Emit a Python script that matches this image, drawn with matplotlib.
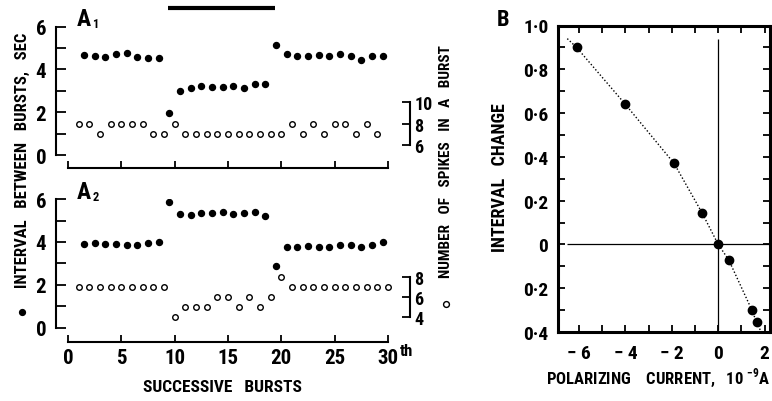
import matplotlib
matplotlib.use('Agg')
import matplotlib.pyplot as plt
from matplotlib.lines import Line2D

plt.rcParams['font.family'] = ['Roboto Condensed', 'Roboto', 'DejaVu Sans']
plt.rcParams['font.weight'] = 'heavy'
plt.rcParams['mathtext.fontset'] = 'custom'
plt.rcParams['mathtext.rm'] = 'Roboto Condensed:bold'
plt.rcParams['mathtext.bf'] = 'Roboto Condensed:bold'

# ---- data ----
burst_no_a1 = [1, 2, 3, 4, 5, 6, 7, 8, 9, 10, 11, 12, 13, 14, 15, 16, 17, 18, 19, 20,
               21, 22, 23, 24, 25, 26, 27, 28, 29]
burst_no_a2 = burst_no_a1 + [30]
gap_pos = [1.5, 2.5, 3.5, 4.5, 5.5, 6.5, 7.5, 8.5, 9.5, 10.5, 11.5, 12.5, 13.5, 14.5, 15.5,
           16.5, 17.5, 18.5, 19.5, 20.5, 21.5, 22.5, 23.5, 24.5, 25.5, 26.5, 27.5, 28.5, 29.5]

a1_interval = [4.69, 4.63, 4.60, 4.71, 4.78, 4.59, 4.51, 4.52,
               1.97,
               2.99, 3.13, 3.23, 3.18, 3.18, 3.23, 3.13, 3.32, 3.32,
               5.13,
               4.74, 4.63, 4.63, 4.66, 4.62, 4.73, 4.63, 4.46, 4.62, 4.62]
a1_spikes = [8, 8, 7, 8, 8, 8, 8, 7, 7, 8,
             7, 7, 7, 7, 7, 7, 7, 7, 7, 7,
             8, 7, 8, 7, 8, 8, 7, 8, 7]

a2_interval = [3.90, 3.93, 3.91, 3.91, 3.87, 3.84, 3.95, 3.98,
               5.88,
               5.30, 5.26, 5.35, 5.36, 5.38, 5.32, 5.34, 5.40, 5.21,
               2.89,
               3.75, 3.75, 3.82, 3.78, 3.75, 3.84, 3.87, 3.78, 3.87, 3.98]
a2_spikes = [7, 7, 7, 7, 7, 7, 7, 7, 7, 4,
             5, 5, 5, 6, 6, 5, 6, 5, 6, 8,
             7, 7, 7, 7, 7, 7, 7, 7, 7, 7]

current_bar = [9.36, 19.4]   # polarizing current on (burst no.)

b_current = [-6.1, -4.0, -1.9, -0.7, 0.0, 0.45, 1.45, 1.65]
b_change = [0.90, 0.64, 0.37, 0.145, 0.0, -0.07, -0.30, -0.355]
b_curve_x = [-6.5, -6.1, -4.0, -1.9, -0.7, 0.0, 0.45, 1.45, 1.65, 1.85]
b_curve_y = [0.94, 0.90, 0.64, 0.37, 0.145, 0.0, -0.07, -0.30, -0.355, -0.40]

b_yticks = [1.0, 0.8, 0.6, 0.4, 0.2, 0.0, -0.2, -0.4]
b_ylabels = ['1·0', '0·8', '0·6', '0·4', '0·2', '0', '0·2', '0·4']
b_xticks = [-6, -4, -2, 0, 2]
b_xlabels = ['− 6', '− 4', '− 2', '0', '2']

W, H = 772, 402
fig = plt.figure(figsize=(W / 100, H / 100), dpi=100)


def px_axes(l, t, r, b):
    return fig.add_axes([l / W, 1 - b / H, (r - l) / W, (b - t) / H])


def dot(x, y, filled):
    fig.add_artist(Line2D([x / W], [1 - y / H], transform=fig.transFigure, marker='o',
                          mfc='black' if filled else 'white', mec='black', mew=1.0,
                          ms=4.2))


def burst_panel(top, bottom, xaxis_y, interval, spikes, spk_x, rlim, rbounds, show_x):
    ax = px_axes(56, top, 410, bottom)
    ax.set_xlim(-1.125, 32.06)
    ax.set_ylim(-0.9, 6.0)
    ax.patch.set_alpha(0)
    for s in ['top', 'right']:
        ax.spines[s].set_visible(False)
    ax.spines['left'].set_bounds(0, 6)
    ax.spines['bottom'].set_position(('data', xaxis_y))
    ax.spines['bottom'].set_bounds(0, 30)
    for s in ['left', 'bottom']:
        ax.spines[s].set_linewidth(1.5)
    ax.set_yticks([0, 2, 4, 6])
    ax.set_yticks([1, 3, 5], minor=True)
    ax.set_xticks([0, 5, 10, 15, 20, 25, 30])
    ax.tick_params(axis='y', which='both', direction='in', length=7, width=1.3, pad=7,
                   labelsize=15)
    ax.tick_params(axis='x', direction='in', length=5, width=1.3, pad=4, labelsize=15,
                   labelbottom=show_x)
    ax.plot(gap_pos, interval, 'o', color='black', ms=4.3, ls='none')

    tw = ax.twinx()
    tw.set_ylim(*rlim)
    for s in ['top', 'left', 'bottom']:
        tw.spines[s].set_visible(False)
    tw.spines['right'].set_bounds(*rbounds)
    tw.spines['right'].set_linewidth(1.5)
    tw.set_yticks([rbounds[0], (rbounds[0] + rbounds[1]) / 2, rbounds[1]])
    tw.tick_params(axis='y', direction='in', length=6, width=1.3, pad=3, labelsize=13)
    tw.plot(spk_x, spikes, 'o', mfc='white', mec='black', mew=1.0, ms=4.0, ls='none')
    return ax


ax1 = burst_panel(27.6, 175.3, -0.61, a1_interval, a1_spikes, burst_no_a1,
                  (3.28, 17.08), (6, 10), False)
ax2 = burst_panel(200.1, 347.8, -0.68, a2_interval, a2_spikes, burst_no_a2,
                  (1.04, 15.72), (4, 8), True)

ax1.plot(current_bar, [6.86, 6.86], color='black', lw=3, solid_capstyle='butt',
         clip_on=False)

fig.text(77 / W, 1 - 20 / H, 'A', fontsize=17, ha='left', va='center')
fig.text(92.5 / W, 1 - 25 / H, '1', fontsize=9, ha='left', va='center')
fig.text(77 / W, 1 - 193 / H, 'A', fontsize=17, ha='left', va='center')
fig.text(92.5 / W, 1 - 198 / H, '2', fontsize=9, ha='left', va='center')

fig.text(22 / W, 1 - 160 / H, 'INTERVAL   BETWEEN   BURSTS,   SEC', rotation=90,
         fontsize=12, ha='center', va='center')
dot(22, 313, True)
fig.text(446 / W, 1 - 162 / H, 'NUMBER   OF   SPIKES   IN   A   BURST', rotation=90,
         fontsize=11, ha='center', va='center')
dot(446, 305, False)
fig.text(222 / W, 1 - 388 / H, 'SUCCESSIVE   BURSTS', fontsize=12.5, ha='center',
         va='center')
fig.text(400 / W, 1 - 352 / H, 'th', fontsize=12, ha='left', va='center')

# ---- panel B ----
axb = px_axes(558, 26.5, 770, 333)
axb.set_xlim(-6.9, 2.23)
axb.set_ylim(-0.4, 1.0)
for s in axb.spines.values():
    s.set_linewidth(2.2)
axb.set_yticks(b_yticks, b_ylabels)
axb.set_yticks([0.9, 0.7, 0.5, 0.3, 0.1, -0.1, -0.3], minor=True)
axb.set_xticks(b_xticks, b_xlabels)
axb.set_xticks([-5, -3, -1, 1], minor=True)
axb.tick_params(which='both', direction='in', length=5, width=1.3, top=True, right=True,
                labelsize=14)
axb.tick_params(axis='y', pad=7)
axb.tick_params(axis='x', pad=9)
axb.hlines(0, -6.5, 2.23, color='black', lw=0.9)
axb.vlines(0, -0.39, 0.94, color='black', lw=0.9)
axb.plot(b_curve_x, b_curve_y, ls=(0, (1, 1.5)), color='black', lw=1.0)
axb.plot(b_current, b_change, 'o', color='black', ms=6, ls='none')

fig.text(503 / W, 1 - 20 / H, 'B', fontsize=16, ha='center', va='center')
fig.text(500 / W, 1 - 178 / H, 'INTERVAL   CHANGE', rotation=90, fontsize=13,
         ha='center', va='center')
fig.text(658 / W, 1 - 378 / H, 'POLARIZING    CURRENT,   10 $^{\\mathbf{-9}}$A',
         fontsize=12, ha='center', va='center')

fig.savefig('out.png', dpi=100)
